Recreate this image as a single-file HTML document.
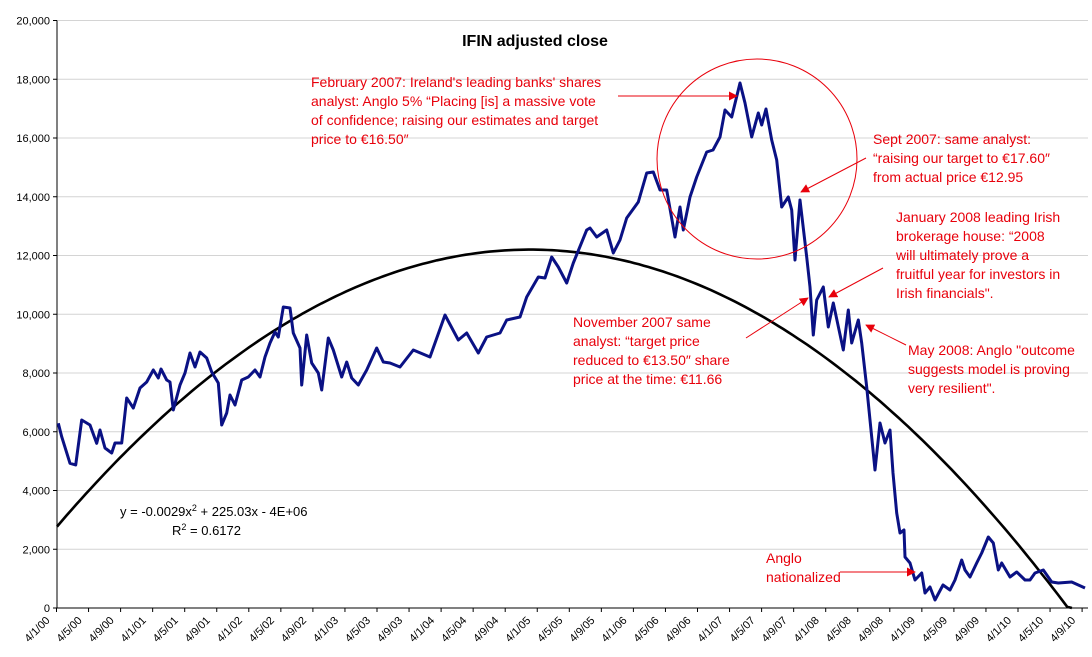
<!DOCTYPE html>
<html><head><meta charset="utf-8">
<style>
html,body{margin:0;padding:0;background:#fff;}
svg{display:block;font-family:"Liberation Sans",Arial,sans-serif;}
.ann{fill:#e8000b;font-size:14px;}
</style></head>
<body>
<svg id="chart" width="1092" height="657" viewBox="0 0 1092 657" xmlns="http://www.w3.org/2000/svg">
<defs>
<marker id="ah" viewBox="0 0 10 10" refX="9" refY="5" markerWidth="9" markerHeight="9" orient="auto" markerUnits="userSpaceOnUse"><path d="M0,0 L10,5 L0,10 z" fill="#e8000b"/></marker>
</defs>
<g id="grid"></g>
<g id="yaxis"></g>
<g id="xaxis"></g>
<path id="trend" fill="none" stroke="#000" stroke-width="2.6"/>
<path id="series" fill="none" stroke="#0a1184" stroke-width="3" stroke-linejoin="round"/>
<text x="535" y="46" text-anchor="middle" font-size="16" font-weight="bold">IFIN adjusted close</text>
<circle cx="757" cy="159" r="100" fill="none" stroke="#e8000b" stroke-width="1"/>
<g>
<text class="ann" x="311" y="87">February 2007: Ireland's leading banks' shares</text>
<text class="ann" x="311" y="106">analyst: Anglo 5% “Placing [is] a massive vote</text>
<text class="ann" x="311" y="125">of confidence; raising our estimates and target</text>
<text class="ann" x="311" y="144">price to €16.50″</text>
</g>
<line x1="618" y1="96" x2="737" y2="96" stroke="#e8000b" stroke-width="1" marker-end="url(#ah)"/>
<g>
<text class="ann" x="873" y="144">Sept 2007: same analyst:</text>
<text class="ann" x="873" y="163">“raising our target to €17.60″</text>
<text class="ann" x="873" y="182">from actual price €12.95</text>
</g>
<line x1="866" y1="158" x2="801" y2="192" stroke="#e8000b" stroke-width="1" marker-end="url(#ah)"/>
<g>
<text class="ann" x="896" y="222">January 2008 leading Irish</text>
<text class="ann" x="896" y="241">brokerage house: “2008</text>
<text class="ann" x="896" y="260">will ultimately prove a</text>
<text class="ann" x="896" y="279">fruitful year for investors in</text>
<text class="ann" x="896" y="298">Irish financials".</text>
</g>
<line x1="883" y1="268" x2="829" y2="297" stroke="#e8000b" stroke-width="1" marker-end="url(#ah)"/>
<g>
<text class="ann" x="573" y="327">November 2007 same</text>
<text class="ann" x="573" y="346">analyst: “target price</text>
<text class="ann" x="573" y="365">reduced to €13.50″ share</text>
<text class="ann" x="573" y="384">price at the time: €11.66</text>
</g>
<line x1="746" y1="338" x2="808" y2="298" stroke="#e8000b" stroke-width="1" marker-end="url(#ah)"/>
<g>
<text class="ann" x="908" y="355">May 2008: Anglo "outcome</text>
<text class="ann" x="908" y="374">suggests model is proving</text>
<text class="ann" x="908" y="393">very resilient".</text>
</g>
<line x1="906" y1="345" x2="866" y2="325" stroke="#e8000b" stroke-width="1" marker-end="url(#ah)"/>
<g>
<text class="ann" x="766" y="563">Anglo</text>
<text class="ann" x="766" y="582">nationalized</text>
</g>
<line x1="840" y1="572" x2="915" y2="572" stroke="#e8000b" stroke-width="1" marker-end="url(#ah)"/>
<g font-size="13">
<text x="120" y="516">y = -0.0029x<tspan font-size="9" dy="-5">2</tspan><tspan dy="5"> + 225.03x - 4E+06</tspan></text>
<text x="172" y="535">R<tspan font-size="9" dy="-5">2</tspan><tspan dy="5"> = 0.6172</tspan></text>
</g>
</svg>
<script>
const yTicks=[0,2000,4000,6000,8000,10000,12000,14000,16000,18000,20000];
const xLabels=["4/1/00","4/5/00","4/9/00","4/1/01","4/5/01","4/9/01","4/1/02","4/5/02","4/9/02","4/1/03","4/5/03","4/9/03","4/1/04","4/5/04","4/9/04","4/1/05","4/5/05","4/9/05","4/1/06","4/5/06","4/9/06","4/1/07","4/5/07","4/9/07","4/1/08","4/5/08","4/9/08","4/1/09","4/5/09","4/9/09","4/1/10","4/5/10","4/9/10"];
// samples: pixel x -> time (years), pixel y -> value
const px=[58.3,61.7,70,75.7,81.7,90,96.7,100,105,111.7,115,121.7,126.7,133.3,140,146.7,153.3,158.3,161,166.7,170,173.3,180,185,190,195,200,206.7,211.7,218.3,221.7,226.7,230,235,241.7,248.3,255,260,265,270,275,278.3,283.3,290,293.3,300,301.7,306.7,311.7,318.3,321.7,328.3,333.3,341.7,346.7,351.7,358.3,366.7,376.7,383.3,390,400,413.3,430,445,458.3,466.7,478.3,486.7,500,506.7,520,526.7,538.3,545,551.7,558.3,566.7,573.3,586.7,590,596.7,606.7,613.3,620,626.7,638.3,646.7,653.3,660,666.7,675,680,683.3,690,696.7,706.7,713,720,725,731.7,740,745,751.7,758.3,761.7,766,771.7,776.7,781.7,788.3,791.7,795,800,806.7,810,813.3,816.7,823.3,828.3,833.3,843.3,848.3,851.7,858.3,861.7,866.7,870,875,880,885,890,893,896.7,900,904,905,910,915,921.7,925,930,935,943,950,955,961.7,965,970,976.7,981.7,988.3,993.3,998.3,1001.7,1010,1016.7,1025,1030,1035,1043.3,1051.7,1058.3,1071.7,1085];
const py=[423.3,436.7,463.3,465,420,425,443.3,430,448,453,443,443,398,408,388,382,370,378,369,380,382,410,385,373,353,367,352,358,372,383,425,413,395,405,380,377,370,377,357,343,332,337,307,308,333,348,385,335,363,373,390,338,350,377,362,378,385,370,348,362,363,367,350,357,315,340,333,353,337,333,320,317,297,277,278,257,267,283,263,230,228,237,230,253,240,218,202,173,172,190,190,237,207,230,197,177,152,150,137,110,117,83,103,137,113,125,109,140,160,207,197,210,260,200,257,287,335,300,287,327,303,350,310,343,320,343,387,420,470,423,443,430,473,513,533,530,557,563,580,573,593,587,600,585,590,580,560,570,577,563,553,537,543,570,563,577,572,580,580,573,570,582,583,582,588];
const dates=px.map(x=>+(2000+(x-57)/96.2).toFixed(3));
const values=py.map(y=>Math.round((608-y)/0.029375));
const trendCoef=[2004.917,12200,390]; // vertex year, peak value, curvature

const X0=57, K=96.2, Y0=608, YS=0.029375;
const xs=t=>X0+(t-2000)*K;
const ys=v=>Y0-v*YS;
const NS="http://www.w3.org/2000/svg";
const grid=document.getElementById('grid'), ya=document.getElementById('yaxis'), xa=document.getElementById('xaxis');
yTicks.forEach(v=>{
  const y=ys(v);
  if(v>0){const g=document.createElementNS(NS,'line');
  g.setAttribute('x1',X0);g.setAttribute('x2',1088);g.setAttribute('y1',y);g.setAttribute('y2',y);
  g.setAttribute('stroke','#d4d4d4');g.setAttribute('stroke-width','1');
  
  
  grid.appendChild(g);}
  const t=document.createElementNS(NS,'line');
  t.setAttribute('x1',X0-4);t.setAttribute('x2',X0);t.setAttribute('y1',y);t.setAttribute('y2',y);t.setAttribute('stroke','#000');
  
  
  ya.appendChild(t);
  const l=document.createElementNS(NS,'text');
  l.setAttribute('x',X0-7);l.setAttribute('y',y+4);l.setAttribute('text-anchor','end');l.setAttribute('font-size','11');
  l.textContent=v.toLocaleString('en-US');
  
  
  ya.appendChild(l);
});
const axL=document.createElementNS(NS,'line');
axL.setAttribute('x1',X0);axL.setAttribute('x2',X0);axL.setAttribute('y1',ys(20000));axL.setAttribute('y2',Y0);axL.setAttribute('stroke','#000');


ya.appendChild(axL);
const axB=document.createElementNS(NS,'line');
axB.setAttribute('x1',X0);axB.setAttribute('x2',1088);axB.setAttribute('y1',Y0);axB.setAttribute('y2',Y0);axB.setAttribute('stroke','#000');


xa.appendChild(axB);
const step=32.05;
for(let i=0;i<xLabels.length;i++){
  const x=56.5+i*step;
  const t=document.createElementNS(NS,'line');
  t.setAttribute('x1',x);t.setAttribute('x2',x);t.setAttribute('y1',Y0);t.setAttribute('y2',Y0+4);t.setAttribute('stroke','#000');
  
  
  xa.appendChild(t);
  const l=document.createElementNS(NS,'text');
  l.setAttribute('transform','translate('+(x-6)+','+(Y0+13)+') rotate(-45)');
  l.setAttribute('text-anchor','end');l.setAttribute('font-size','11');
  l.textContent=xLabels[i];
  
  
  xa.appendChild(l);
}
let d='';
dates.forEach((t,i)=>{d+=(i?'L':'M')+xs(t).toFixed(1)+','+ys(values[i]).toFixed(1);});
document.getElementById('series').setAttribute('d',d);
let td='';
for(let t=2000;t<=2011.4;t+=0.05){
  const v=trendCoef[1]-trendCoef[2]*Math.pow(t-trendCoef[0],2);
  if(v<0){td+='L'+xs(t).toFixed(1)+','+ys(0).toFixed(1);break;}
  td+=(td?'L':'M')+xs(t).toFixed(1)+','+ys(v).toFixed(1);
}
document.getElementById('trend').setAttribute('d',td);
</script>
</body></html>
